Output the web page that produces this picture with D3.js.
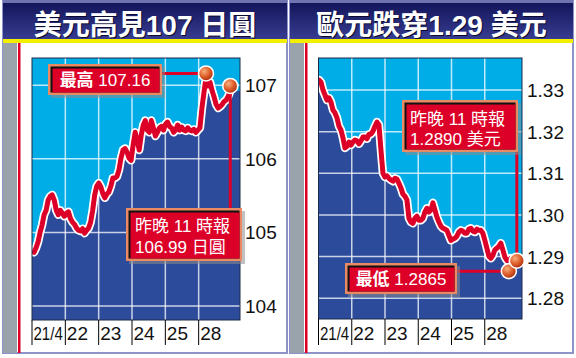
<!DOCTYPE html>
<html>
<head>
<meta charset="utf-8">
<script src="https://d3js.org/d3.v7.min.js"></script>
<style>
  body { margin: 0; background: #fff; }
  svg { display: block; }
</style>
</head>
<body>
<div id="chart"></div>
<script>
// ---- data ----
const dayLabels = ["21/4", "22", "23", "24", "25", "28"];

// USD/JPY
const jpyTicks = [104, 105, 106, 107];
const jpyValues = [
  104.73,104.79,104.87,105.00,105.10,105.24,105.30,105.44,105.49,105.51,
  105.44,105.30,105.24,105.30,105.26,105.22,105.26,105.28,105.19,105.14,
  105.11,105.06,105.03,105.02,105.05,104.99,105.03,105.06,105.14,105.30,
  105.51,105.63,105.67,105.62,105.53,105.47,105.52,105.55,105.63,105.74,
  105.74,105.76,105.85,106.01,106.12,106.14,106.09,106.01,105.98,106.19,
  106.36,106.25,106.12,106.32,106.46,106.52,106.39,106.36,106.52,106.42,
  106.31,106.36,106.42,106.44,106.39,106.47,106.50,106.44,106.42,106.36,
  106.39,106.46,106.39,106.43,106.39,106.38,106.42,106.39,106.38,106.40,
  106.36,106.39,106.42,106.69,106.90,107.10,106.99,107.04,106.93,106.84,
  106.74,106.69,106.71,106.74,106.78,106.80,106.85,106.92
];
const jpyHigh = 107.16;
const jpyLast = 106.99;

// EUR/USD
const eurTicks = [1.28, 1.29, 1.30, 1.31, 1.32, 1.33];
const eurValues = [
  1.3324,1.3319,1.3300,1.3288,1.3276,1.3281,1.3271,1.3252,1.3245,1.3233,
  1.3213,1.3204,1.3185,1.3161,1.3165,1.3175,1.3168,1.3175,1.3180,1.3178,
  1.3171,1.3178,1.3187,1.3187,1.3183,1.3194,1.3194,1.3201,1.3213,1.3223,
  1.3216,1.3156,1.3100,1.3091,1.3094,1.3088,1.3084,1.3081,1.3088,1.3086,
  1.3076,1.3065,1.3050,1.3045,1.3036,1.2992,1.2983,1.2980,1.2992,1.2997,
  1.2987,1.2987,1.2992,1.3007,1.3016,1.3007,1.3012,1.3029,1.3012,1.2995,
  1.2983,1.2973,1.2968,1.2966,1.2963,1.2951,1.2939,1.2942,1.2944,1.2949,
  1.2959,1.2963,1.2961,1.2956,1.2956,1.2966,1.2968,1.2961,1.2959,1.2966,
  1.2963,1.2963,1.2956,1.2939,1.2920,1.2901,1.2896,1.2903,1.2916,1.2920,
  1.2925,1.2932,1.2916,1.2899,1.2891,1.2887,1.2896,1.2894,1.2893,1.2891
];
const eurLow = 1.2865;
const eurLast = 1.2890;

// ---- drawing ----
const W = 576, H = 358;
const FONT = "'Liberation Sans', Arial, 'Noto Sans CJK TC', sans-serif";
const RED = "#dc0028";

const svg = d3.select("#chart").append("svg")
  .attr("width", W).attr("height", H)
  .style("font-family", FONT);

const defs = svg.append("defs");
const tg = defs.append("linearGradient").attr("id", "titleGrad")
  .attr("x1", 0).attr("y1", 0).attr("x2", 0).attr("y2", 1);
tg.append("stop").attr("offset", "0%").attr("stop-color", "#13165a");
tg.append("stop").attr("offset", "100%").attr("stop-color", "#383c90");

const bg = defs.append("radialGradient").attr("id", "ball")
  .attr("cx", "38%").attr("cy", "35%").attr("r", "65%");
bg.append("stop").attr("offset", "0%").attr("stop-color", "#f6b080");
bg.append("stop").attr("offset", "55%").attr("stop-color", "#e0602c");
bg.append("stop").attr("offset", "100%").attr("stop-color", "#b03010");

function drawPanel(p) {
  const g = svg.append("g");
  // frame
  g.append("rect").attr("x", p.x0).attr("y", 1).attr("width", p.x1 - p.x0).attr("height", 352)
    .attr("fill", "#fff").attr("stroke", "#8f93cc").attr("stroke-width", 2);
  g.append("rect").attr("x", p.x0).attr("y", 0).attr("width", p.x1 - p.x0).attr("height", 3)
    .attr("fill", "#7073b0");
  // title band
  g.append("rect").attr("x", p.x0).attr("y", 3).attr("width", p.x1 - p.x0).attr("height", 36)
    .attr("fill", "url(#titleGrad)");
  g.append("rect").attr("x", p.x0).attr("y", 39).attr("width", p.x1 - p.x0).attr("height", 4)
    .attr("fill", "#f4ee00");
  g.append("text").attr("x", (p.x0 + p.x1) / 2 + 1).attr("y", 36)
    .attr("text-anchor", "middle").attr("font-size", 28).attr("font-weight", "bold")
    .attr("fill", "#0a0a30").text(p.title);
  g.append("text").attr("x", (p.x0 + p.x1) / 2).attr("y", 35)
    .attr("text-anchor", "middle").attr("font-size", 28).attr("font-weight", "bold")
    .attr("fill", "#fff").text(p.title);
  // side strip
  g.append("rect").attr("x", p.x0).attr("y", 43).attr("width", 14).attr("height", 310)
    .attr("fill", "#9aa3ab");
  g.append("rect").attr("x", p.x0 + 15).attr("y", 43).attr("width", 2.5).attr("height", 310)
    .attr("fill", RED);
  return g;
}

function drawChart(g, c) {
  const x = d3.scaleLinear().domain(c.xDomain).range([c.left, c.right]);
  const y = d3.scaleLinear().domain(c.yDomain).range([c.bottom, c.top]);
  const pts = c.values.map((v, i) => ({ d: c.start + i * c.step, v }));
  const clipId = "clip" + c.id;
  defs.append("clipPath").attr("id", clipId).append("rect")
    .attr("x", c.left).attr("y", c.top)
    .attr("width", c.right - c.left).attr("height", c.bottom - c.top);

  const plot = g.append("g").attr("clip-path", `url(#${clipId})`);
  plot.append("rect").attr("x", c.left).attr("y", c.top)
    .attr("width", c.right - c.left).attr("height", c.bottom - c.top)
    .attr("fill", "#00ade6");

  const areaPts = [{ d: c.xDomain[0], v: c.values[0] }, ...pts,
                   { d: c.xDomain[1], v: c.values[c.values.length - 1] }];
  plot.append("path").datum(areaPts)
    .attr("fill", "#2c4b9b")
    .attr("d", d3.area().x(p => x(p.d)).y0(c.bottom).y1(p => y(p.v)));

  // grid
  plot.selectAll(".vg").data(d3.range(1, dayLabels.length)).enter().append("line")
    .attr("x1", d => x(d)).attr("x2", d => x(d))
    .attr("y1", c.top).attr("y2", c.bottom)
    .attr("stroke", "#fff").attr("stroke-opacity", 0.75).attr("stroke-width", 1.5);
  plot.selectAll(".hg").data(c.yTicks).enter().append("line")
    .attr("x1", c.left).attr("x2", c.right)
    .attr("y1", d => y(d)).attr("y2", d => y(d))
    .attr("stroke", "#fff").attr("stroke-opacity", 0.75).attr("stroke-width", 1.5);

  // line with white halo
  const line = d3.line().x(p => x(p.d)).y(p => y(p.v));
  plot.append("path").datum(pts).attr("d", line)
    .attr("fill", "none").attr("stroke", "#fff").attr("stroke-width", 8.5)
    .attr("stroke-linejoin", "round").attr("stroke-linecap", "round");
  plot.append("path").datum(pts).attr("d", line)
    .attr("fill", "none").attr("stroke", RED).attr("stroke-width", 5)
    .attr("stroke-linejoin", "round").attr("stroke-linecap", "round");

  g.append("rect").attr("x", c.left).attr("y", c.top)
    .attr("width", c.right - c.left).attr("height", c.bottom - c.top)
    .attr("fill", "none").attr("stroke", "#1c2a48").attr("stroke-width", 1);

  // y labels
  g.selectAll(".yl").data(c.yTicks).enter().append("text")
    .attr("x", c.right + 5).attr("y", d => y(d) + 7)
    .attr("font-size", 19).attr("fill", "#111")
    .text(c.fmt);

  // x ticks + labels (condense labels that don't fit between ticks)
  g.selectAll(".xt").data(d3.range(dayLabels.length)).enter().append("line")
    .attr("x1", d => x(d)).attr("x2", d => x(d))
    .attr("y1", c.bottom).attr("y2", 345)
    .attr("stroke", "#000").attr("stroke-width", 1);
  const room = x(1) - x(0) - 4;
  g.selectAll(".xl").data(dayLabels).enter().append("g")
    .attr("transform", (d, i) => `translate(${x(i) + 1.5},340)`)
    .append("text")
    .attr("font-size", 19).attr("fill", "#111")
    .text(d => d)
    .each(function () {
      const w = this.getComputedTextLength();
      if (w > room) d3.select(this.parentNode)
        .attr("transform", d3.select(this.parentNode).attr("transform") + ` scale(${room / w},1)`);
    });

  return { x, y, pts };
}

function box(g, bx, by, bw, bh) {
  g.append("rect").attr("x", bx + 3).attr("y", by + 3).attr("width", bw).attr("height", bh)
    .attr("fill", "#8c8c8c").attr("opacity", 0.55);
  g.append("rect").attr("x", bx).attr("y", by).attr("width", bw).attr("height", bh)
    .attr("fill", "#e98a62");
  g.append("rect").attr("x", bx + 2.5).attr("y", by + 2.5).attr("width", bw - 5).attr("height", bh - 5)
    .attr("fill", "#111");
  g.append("rect").attr("x", bx + 4.5).attr("y", by + 4.5).attr("width", bw - 7).attr("height", bh - 7)
    .attr("fill", RED);
}

function ball(g, cx, cy) {
  g.append("circle").attr("cx", cx).attr("cy", cy).attr("r", 7.5)
    .attr("fill", "url(#ball)").attr("stroke", "#fff").attr("stroke-width", 1.6);
}

function label(g, tx, ty, parts, anchor) {
  const t = g.append("text").attr("x", tx).attr("y", ty)
    .attr("font-size", 17).attr("fill", "#fff").attr("text-anchor", anchor || "start");
  parts.forEach(p => t.append("tspan").attr("font-weight", p[1] ? "bold" : "normal").text(p[0]));
}

// ---- left panel: USD/JPY ----
const gl = drawPanel({ x0: 3, x1: 287, title: "美元高見107 日圓" });
const L = drawChart(gl, {
  id: "L", left: 32, right: 240, top: 58, bottom: 320,
  xDomain: [0, 6.24], yDomain: [103.81, 107.37],
  start: 0.06, step: 0.0607, values: jpyValues, yTicks: jpyTicks,
  fmt: d3.format("d")
});
{
  const iHigh = d3.maxIndex(jpyValues);
  const hx = L.x(L.pts[iHigh].d), hy = L.y(jpyHigh);
  const last = L.pts[L.pts.length - 1];
  const ex = L.x(last.d), ey = L.y(jpyLast);
  gl.append("line").attr("x1", 160).attr("x2", hx).attr("y1", hy).attr("y2", hy)
    .attr("stroke", RED).attr("stroke-width", 3);
  gl.append("line").attr("x1", ex).attr("x2", ex).attr("y1", ey).attr("y2", 210)
    .attr("stroke", RED).attr("stroke-width", 3);
  box(gl, 48, 64, 114, 31);
  label(gl, 105, 86, [["最高", true], [" 107.16", false]], "middle");
  box(gl, 126, 208, 116, 53);
  label(gl, 135, 232, [["昨晚 11 時報", false]]);
  label(gl, 135, 253, [["106.99 日圓", false]]);
  ball(gl, hx, hy);
  ball(gl, ex, ey);
}

// ---- right panel: EUR/USD ----
const gr = drawPanel({ x0: 290, x1: 573, title: "歐元跌穿1.29 美元" });
const R = drawChart(gr, {
  id: "R", left: 318.5, right: 522, top: 58, bottom: 319,
  xDomain: [0, 6.12], yDomain: [1.2750, 1.3377],
  start: 0.015, step: 0.0601, values: eurValues, yTicks: eurTicks,
  fmt: d3.format(".2f")
});
{
  const iLow = d3.minIndex(eurValues);
  const lx = R.x(R.pts[iLow].d), ly = R.y(eurLow);
  const last = R.pts[R.pts.length - 1];
  const ex = R.x(last.d), ey = R.y(eurLast);
  gr.append("line").attr("x1", 455).attr("x2", lx).attr("y1", ly).attr("y2", ly)
    .attr("stroke", RED).attr("stroke-width", 3);
  gr.append("line").attr("x1", ex).attr("x2", ex).attr("y1", 150).attr("y2", ey)
    .attr("stroke", RED).attr("stroke-width", 3);
  box(gr, 402, 100, 116, 52);
  label(gr, 410, 125, [["昨晚 11 時報", false]]);
  label(gr, 410, 145, [["1.2890 美元", false]]);
  box(gr, 345, 263, 112, 31);
  label(gr, 401, 285, [["最低", true], [" 1.2865", false]], "middle");
  ball(gr, lx, ly);
  ball(gr, ex, ey);
}
</script>
</body>
</html>
